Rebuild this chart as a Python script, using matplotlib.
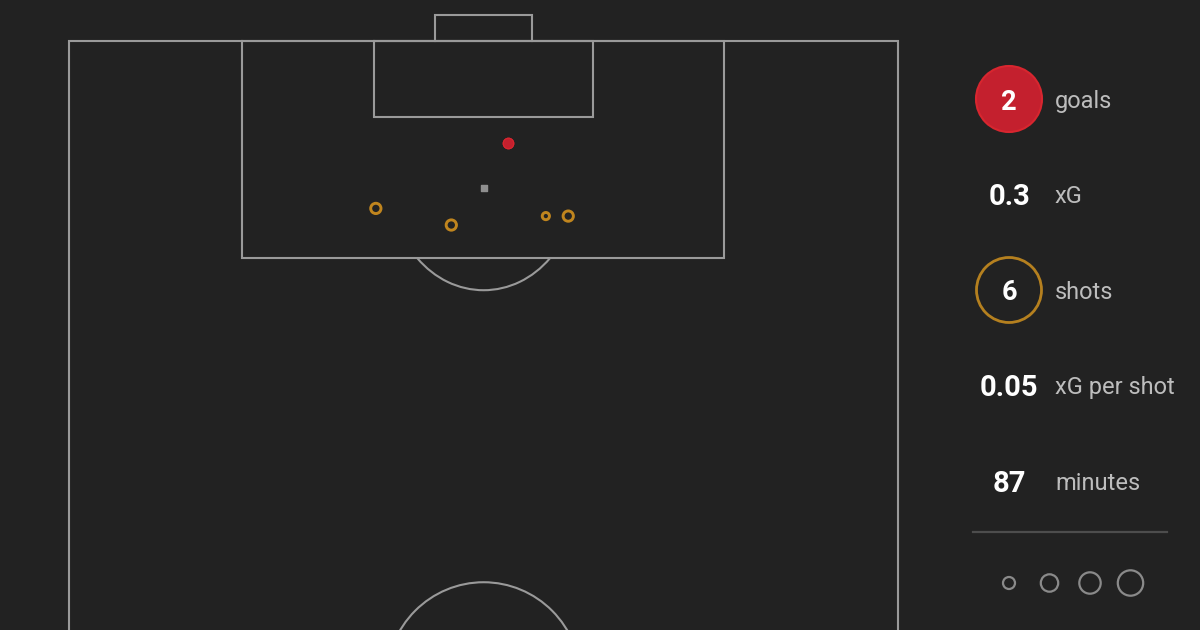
import matplotlib
matplotlib.use("Agg")
import matplotlib.pyplot as plt
from matplotlib.patches import Arc, Ellipse, Circle

# shot data, pitch units: x across the pitch (0-100), y out from the goal line
shot_x = [52.9, 52.9, 37.0, 46.1, 57.5, 60.2]
shot_y = [8.0, 8.0, 13.1, 14.4, 13.7, 13.7]
shot_xg = [0.045, 0.045, 0.06, 0.06, 0.03, 0.06]
shot_goal = [True, True, False, False, False, False]

stat_values = ["2", "0.3", "6", "0.05", "87"]
stat_labels = ["goals", "xG", "shots", "xG per shot", "minutes"]

legend_radius = [6, 8.7, 10.7, 12.7]

bg = "#222222"
line_col = "#9a9a9a"
red = "#c4202e"
orange = "#c0851e"

plt.rcParams['font.family'] = ['Roboto', 'DejaVu Sans']

fig = plt.figure(figsize=(12, 6.3), dpi=100, facecolor=bg)

# pitch axes: pixel mapping 8.293 px per unit across, 12.78 px per unit down
sx, sy = 8.293, 12.78
x0, y0 = 69, 41
ax = fig.add_axes([0, 0, 1, 1])
ax.set_facecolor(bg)
ax.set_xlim(-x0 / sx, (1200 - x0) / sx)
ax.set_ylim((630 - y0) / sy, -y0 / sy)
ax.axis('off')

lw = 1.5
def rect(xa, xb, ya, yb):
    ax.plot([xa, xa, xb, xb, xa], [ya, yb, yb, ya, ya], color=line_col, lw=lw,
            solid_joinstyle='miter')

# outer lines
ax.plot([0, 0, 100, 100], [100, 0, 0, 100], color=line_col, lw=lw, solid_joinstyle='miter')
rect(20.9, 79.0, 0, 17.0)    # penalty box
rect(36.75, 63.2, 0, 5.95)   # six yard box
ax.plot([44.1, 44.1, 55.8, 55.8], [0, -2.05, -2.05, 0], color=line_col, lw=lw,
        solid_joinstyle='miter')  # goal
ax.add_patch(Arc((50, 11.5), 22, 16, theta1=34.5, theta2=145.5, color=line_col, lw=lw))
ax.add_patch(Ellipse((50, 50), 23.4, 15.3, fill=False, edgecolor=line_col, lw=lw))
ax.plot([0, 100], [50, 50], color=line_col, lw=lw)
ax.scatter([50], [11.5], marker='s', s=14, color="#8f8f8f", zorder=3)

# shots
for x, y, xg, g in zip(shot_x, shot_y, shot_xg, shot_goal):
    d_px = 5 + 100 * xg
    if g:
        ax.scatter([x], [y], s=(d_px * 0.8) ** 2, color=red, edgecolor="#d8262f",
                   linewidth=0.8, zorder=5)
    else:
        ax.scatter([x], [y], s=((d_px - 1) * 0.74) ** 2, facecolor='none',
                   edgecolor=orange, linewidth=2.1, zorder=4)

# right panel in pixel coordinates
px = fig.add_axes([0, 0, 1, 1])
px.set_xlim(0, 1200)
px.set_ylim(630, 0)
px.axis('off')
px.patch.set_alpha(0)

row_y = [99, 194, 290, 385, 481]
px.add_patch(Circle((1009, row_y[0]), 33, facecolor=red, edgecolor="#d8262f", lw=1.5))
px.add_patch(Circle((1009, row_y[2]), 32.5, facecolor='none', edgecolor="#b5801f", lw=2))
for i, (v, lab) in enumerate(zip(stat_values, stat_labels)):
    fs = 19.5 if i in (0, 2) else 21
    px.text(1009, row_y[i], v, color='white', fontsize=fs, fontweight='bold',
            ha='center', va='center_baseline')
    px.text(1055, row_y[i], lab, color="#bdbdbd", fontsize=17,
            ha='left', va='center_baseline')

px.plot([973, 1167], [532, 532], color="#4d4d4d", lw=1.6)
for cx, r in zip([1009, 1049.5, 1090, 1130.5], legend_radius):
    px.add_patch(Circle((cx, 583), r, facecolor='none', edgecolor="#8a8a8a", lw=1.6))

fig.savefig("out.png", dpi=100, facecolor=bg)
